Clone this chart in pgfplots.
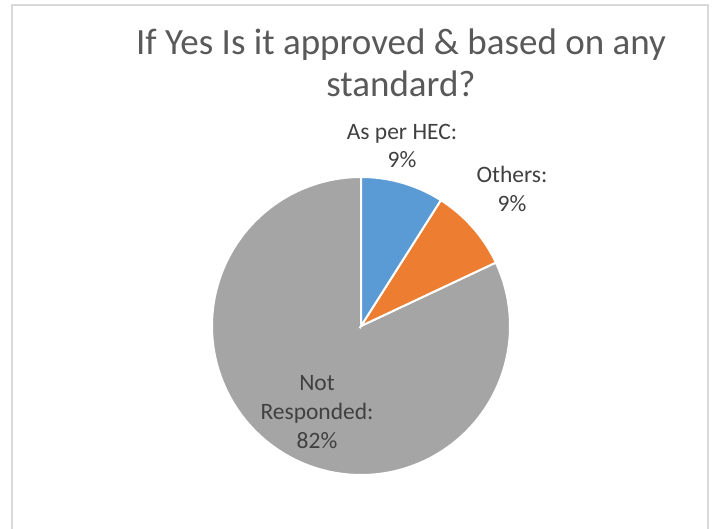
\documentclass[border=0pt]{standalone}
\usepackage{pgfplots}
\pgfplotsset{compat=1.18}
\usepackage{fontspec}
\setmainfont{Carlito}
\definecolor{cBlue}{HTML}{5B9BD5}
\definecolor{cOrange}{HTML}{ED7D31}
\definecolor{cGray}{HTML}{A5A5A5}
\definecolor{cTitle}{HTML}{595959}
\definecolor{cLab}{HTML}{404040}
\definecolor{cBorder}{HTML}{D9D9D9}
% values (percent)
\def\vA{9}\def\vB{9}\def\vC{82}
\pgfmathsetmacro{\aS}{90}
\pgfmathsetmacro{\aA}{90-3.6*\vA}
\pgfmathsetmacro{\aB}{\aA-3.6*\vB}
\pgfmathsetmacro{\aC}{\aB-3.6*\vC}
\def\cx{361}\def\cy{326}\def\rr{149}
\begin{document}
\begin{tikzpicture}
\begin{axis}[
  at={(0,0)}, anchor=south west,
  scale only axis, width=714pt, height=529pt,
  xmin=0, xmax=714, ymin=0, ymax=529, y dir=reverse,
  hide axis, clip=false,
]
\addplot[fill=cGray, draw=white, line width=2pt, domain=\aC:\aB, samples=200, variable=\t, no markers]
  ({\cx+\rr*cos(\t)}, {\cy-\rr*sin(\t)}) -- (axis cs:\cx,\cy) -- cycle;
\addplot[fill=cOrange, draw=white, line width=2pt, domain=\aB:\aA, samples=40, variable=\t, no markers]
  ({\cx+\rr*cos(\t)}, {\cy-\rr*sin(\t)}) -- (axis cs:\cx,\cy) -- cycle;
\addplot[fill=cBlue, draw=white, line width=2pt, domain=\aA:\aS, samples=40, variable=\t, no markers]
  ({\cx+\rr*cos(\t)}, {\cy-\rr*sin(\t)}) -- (axis cs:\cx,\cy) -- cycle;

\draw[cBorder, line width=1.5pt] (axis cs:12,540) -- (axis cs:12,5) -- (axis cs:708,5) -- (axis cs:708,540);

\begin{scope}[every node/.style={anchor=base, inner sep=0pt, text=cTitle, font=\fontsize{37}{45}\selectfont}]
\node at (axis cs:401,55) {If Yes Is it approved \& based on any};
\node at (axis cs:401,97) {standard?};
\end{scope}
\begin{scope}[every node/.style={anchor=base, inner sep=0pt, text=cLab, font=\fontsize{23.5}{28.5}\selectfont}]
\node at (axis cs:402,140) {As per HEC:};
\node at (axis cs:402,168) {9\%};
\node at (axis cs:512,183) {Others:};
\node at (axis cs:512,211.5) {9\%};
\node at (axis cs:317,390) {Not};
\node at (axis cs:317,419) {Responded:};
\node at (axis cs:317,448) {82\%};
\end{scope}
\end{axis}
\pgfresetboundingbox
\path[use as bounding box] (0,0) rectangle (714pt,529pt);
\end{tikzpicture}
\end{document}
